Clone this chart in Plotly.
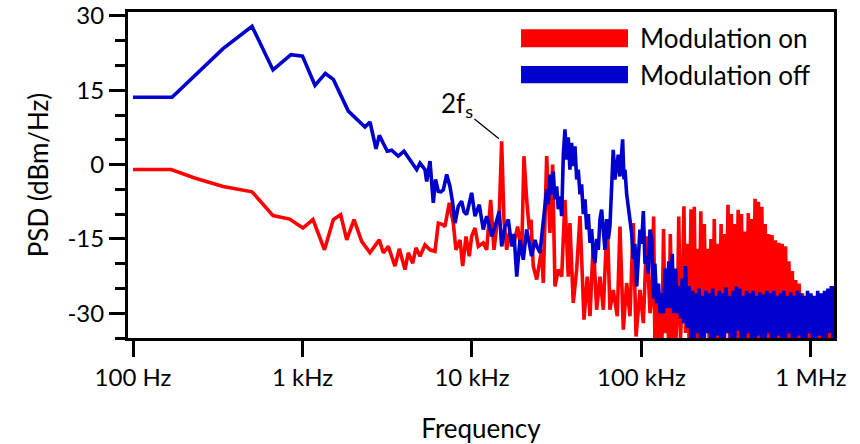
import math
import plotly.graph_objects as go

# ---------------- data ----------------
red_freq_hz = [100, 168, 231, 340, 504, 670, 840, 1006, 1153, 1349, 1520, 1680, 1824, 2014, 2234,
               2502, 2838, 2999, 3208, 3513, 3726, 4025, 4210, 4470, 4672, 4937, 5281, 5654, 6048,
               6330, 6716, 6925, 7352, 7757, 8048, 8500, 8816, 9218, 9640, 9955, 10420, 10900,
               11660, 12210, 12890, 13480, 13990, 14490, 14970, 15440, 16020, 16600, 17520, 18600,
               19650, 20260, 21030, 21790, 22290, 23000, 24090, 25190, 25780, 26350, 27590, 28840,
               29920, 30880, 32300, 33830, 35370, 36990, 37840, 39580, 41470, 43380, 45810, 47890,
               49700, 51980, 54410, 56910, 59540, 62820, 65160, 68150, 71970, 74660, 78130, 81800,
               85520, 89480, 92880, 97990, 102570, 107330, 112300]
red_psd = [-1.0, -1.0, -2.7, -4.4, -5.5, -10.3, -11.0, -12.8, -11.1, -17.2, -11.1, -10.1, -15.2,
           -11.1, -15.5, -17.8, -15.2, -17.8, -16.5, -20.5, -17.0, -21.2, -17.8, -19.9, -16.8,
           -18.5, -16.2, -17.2, -17.5, -11.8, -12.1, -12.5, -7.7, -11.8, -17.2, -15.2, -20.5,
           -14.5, -18.5, -14.5, -12.8, -16.5, -15.8, -17.2, -7.1, -17.2, -12.5, -10.0, 4.7,
           -11.1, -17.2, -13.8, -16.5, -12.5, -17.8, 1.7, -7.1, -13.1, -11.1, -20.5, -23.2,
           -19.2, -17.2, -23.9, 1.7, -13.8, 0.0, -24.6, -21.2, -22.6, -7.1, -22.6, -11.8, -27.9,
           -21.2, -10.4, -31.3, -22.6, -30.6, -15.8, -29.3, -22.6, -29.3, -11.1, -29.3, -25.3,
           -30.6, -12.5, -33.3, -23.9, -30.6, -11.8, -34.7, -25.3, -32.0, -14.5, -30.0]

blue_freq_hz = [100, 170, 340, 504, 670, 855, 1000, 1185, 1364, 1521, 1864, 2040, 2338, 2502, 2716,
                2840, 3165, 3358, 3674, 3970, 4306, 4716, 4937, 5140, 5281, 5405, 5654, 5912, 6095,
                6330, 6560, 6775, 7094, 7417, 7690, 7943, 8304, 8690, 8970, 9305, 9600, 9955, 10420,
                11040, 11660, 12210, 12590, 13060, 13680, 14490, 14970, 15650, 16380, 17150, 17700,
                18370, 19190, 20080, 21030, 21680, 22490, 23540, 24170, 25190, 26350, 26970, 27590,
                28200, 28840, 29510, 30180, 30880, 31590, 32300, 33040, 33830, 34590, 35370, 36200,
                36990, 37840, 38720, 39580, 40520, 41470, 42380, 43380, 44360, 45380, 46440, 47550,
                48560, 49700, 50820, 51980, 53180, 54410, 55640, 56910, 58210, 59540, 60900, 62330,
                63740, 65160, 66630, 68150, 69750, 71400, 72950, 74660, 76400, 77430, 78870, 79930,
                81800, 83630, 85520, 87480, 89480, 91450, 93750, 95740, 97990, 100280, 102570,
                104930, 107330, 109770, 112300]
blue_psd = [13.6, 13.6, 23.4, 27.9, 19.1, 22.2, 21.9, 16.0, 18.4, 17.2, 10.8, 9.6, 7.6, 8.6, 3.2,
            5.9, 2.7, 2.9, 1.7, 2.7, 1.0, -1.0, 0.3, -0.5, -1.0, -3.4, 0.7, -7.7, -3.0, -5.4, -5.5,
            -5.1, -2.0, -4.4, -7.7, -11.8, -8.4, -7.4, -9.5, -10.1, -8.0, -5.7, -10.4, -8.1, -13.1,
            -10.4, -12.0, -14.5, -12.5, -9.4, -16.5, -12.5, -11.1, -16.5, -14.0, -22.6, -15.2,
            -19.2, -13.1, -16.0, -18.5, -15.2, -16.5, -17.8, -11.1, -9.0, -5.0, -8.0, -2.0, -6.0,
            -1.4, -7.0, -4.4, -9.0, -6.4, -10.4, 2.0, 7.1, 1.0, 5.5, -1.0, 4.4, -0.3, 3.7, -3.0,
            -1.0, -6.0, -4.0, -10.0, -7.0, -13.1, -10.0, -15.8, -13.0, -18.0, -19.9, -15.0, -17.2,
            -11.0, -9.1, -14.0, -17.2, -11.0, -15.0, -12.5, -4.0, 3.0, -3.0, 0.3, 2.0, -2.4, 3.0,
            5.1, -3.0, -1.0, -6.0, -9.1, -11.0, -13.8, -19.0, -16.0, -24.6, -18.0, -13.1, -16.0,
            -9.4, -20.0, -18.5, -22.0, -13.1]

# dense high-frequency part (shared bins, kHz)
hf_khz = [115, 118, 120, 123, 126, 129, 132, 135, 138, 141,
          145, 148, 152, 155, 159, 163, 166, 170, 174, 178,
          182, 187, 191, 196, 200, 205, 209, 214, 219, 224,
          229, 235, 240, 246, 251, 257, 263, 269, 275, 282,
          288, 295, 302, 309, 316, 324, 331, 339, 347, 355,
          363, 372, 380, 389, 398, 407, 417, 427, 437, 447,
          457, 468, 479, 490, 501, 513, 525, 537, 550, 562,
          575, 589, 603, 617, 631, 646, 661, 676, 692, 708,
          724, 741, 759, 776, 794, 813, 832, 851, 871, 891,
          912, 933, 955, 977, 1000, 1023, 1047, 1072, 1096, 1122,
          1148, 1175, 1202, 1230, 1259, 1288, 1318, 1349, 1380]
red_hf = [-27, -10.5, -36, -28, -35, -27, -36, -13, -34, -29,
          -36, -14, -35, -28, -36, -30, -10.5, -35, -27, -8.4,
          -34, -16, -36, -9, -35, -8.5, -36, -17, -35, -9.4,
          -36, -12, -34, -17, -36, -15, -35, -11, -36, -16,
          -35, -12, -36, -14, -34, -8.1, -36, -10, -35, -12,
          -36, -9.1, -35, -10, -36, -13.5, -35, -9.8, -36, -11,
          -34, -6.9, -36, -7.5, -35, -8.5, -36, -12, -35, -14,
          -36, -14.2, -35, -15.3, -36, -15.8, -35, -16, -36, -16.5,
          -35, -19.5, -36, -21.5, -35, -23.3, -36, -24, -35, -26,
          -36, -27.5, -35, -28, -36, -28, -35, -28.5, -36, -29,
          -35, -28.5, -36, -29, -35, -28, -36, -29, -34]
blue_hf = [-15, -27, -20, -28, -24, -30, -26, -30, -21, -29,
           -19.5, -29, -18, -30, -21, -30, -24.5, -31, -23, -32,
           -20.5, -33, -24.5, -35, -25.5, -35, -26, -34, -25, -36,
           -26.5, -35, -25.5, -34, -26, -36, -25, -35, -26.5, -34.5,
           -25.5, -36, -26, -35, -24.8, -34, -26.5, -36, -25.5, -35,
           -24.6, -33.5, -25, -36, -26.5, -35, -25.5, -34, -26, -36,
           -25.5, -35, -26.5, -34.5, -25.8, -36, -26.2, -35, -25.5, -34,
           -26, -36, -25.5, -35, -26.5, -34.5, -26, -36, -25.5, -35,
           -26.5, -34, -25.8, -36, -26.5, -35, -25.5, -34.5, -26, -36,
           -26.5, -35, -25.5, -34, -26, -36, -26.5, -35, -25.5, -34.5,
           -26, -36, -25.5, -35, -25, -34, -24.5, -36, -24.5]

x_tickvals = [100, 1000, 10000, 100000, 1000000]
x_ticktext = ["100 Hz", "1 kHz", "10 kHz", "100 kHz", "1 MHz"]
y_tickvals = [-30, -15, 0, 15, 30]
y_ticktext = ["-30", "-15", "0", "15", "30"]
series_names = ["Modulation on", "Modulation off"]

assert len(red_freq_hz) == len(red_psd)
assert len(blue_freq_hz) == len(blue_psd)
assert len(hf_khz) == len(red_hf) == len(blue_hf)

RED = "#FF0000"
BLUE = "#0000CC"
FONT = "Lato"

red_x = red_freq_hz + [k * 1000 for k in hf_khz]
red_y = red_psd + red_hf
blue_x = blue_freq_hz + [k * 1000 for k in hf_khz]
blue_y = blue_psd + blue_hf

fig = go.Figure()
fig.add_trace(go.Scatter(x=red_x, y=red_y, mode="lines", name=series_names[0],
                         line=dict(color=RED, width=3.6)))
fig.add_trace(go.Scatter(x=blue_x, y=blue_y, mode="lines", name=series_names[1],
                         line=dict(color=BLUE, width=3.6)))

fig.update_layout(
    width=860, height=444,
    margin=dict(l=128, r=26, t=12, b=106),
    paper_bgcolor="white", plot_bgcolor="white",
    showlegend=False,
    font=dict(family=FONT, color="black", size=24),
)
fig.update_xaxes(
    type="log", range=[1.9705, 6.136], automargin=False,
    tickvals=x_tickvals, ticktext=x_ticktext,
    ticks="outside", ticklen=16, tickwidth=3, tickcolor="black",
    showline=True, linewidth=3, linecolor="black", mirror=True,
    showgrid=False, zeroline=False,
    tickfont=dict(family=FONT, size=24),
    title=dict(text="Frequency", font=dict(family=FONT, size=26), standoff=32),
)
fig.update_yaxes(
    range=[-35, 30.8], automargin=False,
    tickvals=y_tickvals, ticktext=y_ticktext,
    ticks="outside", ticklen=16, tickwidth=3, tickcolor="black",
    minor=dict(dtick=5, tick0=0, ticks="outside", ticklen=10, tickwidth=3,
               tickcolor="black", showgrid=False),
    showline=True, linewidth=3, linecolor="black", mirror=True,
    showgrid=False, zeroline=False,
    tickfont=dict(family=FONT, size=24),
    title=dict(text="PSD (dBm/Hz)", font=dict(family=FONT, size=26), standoff=12),
)

# custom legend (wide colour bars)
legend_items = [(series_names[0], RED, 0.8917, 0.947), (series_names[1], BLUE, 0.7813, 0.8344)]
for name, col, y0, y1 in legend_items:
    fig.add_shape(type="rect", xref="paper", yref="paper", x0=0.5567, x1=0.7082,
                  y0=y0, y1=y1, fillcolor=col, line=dict(width=0))
    fig.add_annotation(xref="paper", yref="paper", x=0.7225, y=(y0 + y1) / 2,
                       text=name, showarrow=False, xanchor="left", yanchor="middle",
                       font=dict(family=FONT, size=26, color="black"))

# 2fs label
fig.add_annotation(x=math.log10(14430), y=5.2, text="2f<sub>s</sub>",
                   showarrow=True, arrowhead=0, arrowwidth=1.3, arrowcolor="black",
                   ax=-42, ay=-34, standoff=0,
                   font=dict(family=FONT, size=26, color="black"))

fig.write_html("out.html")
